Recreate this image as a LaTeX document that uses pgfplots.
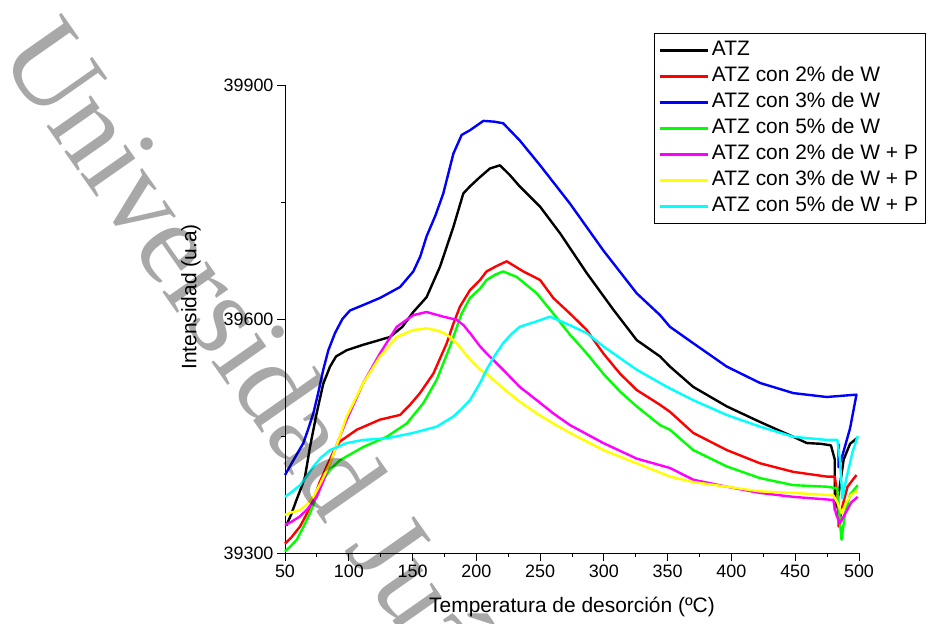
\documentclass[border=0pt]{standalone}
\usepackage{fontspec}
\setmainfont{Liberation Sans}
\newfontfamily\wmfont{Liberation Serif}
\usepackage{pgfplots}
\pgfplotsset{compat=1.18}
\definecolor{cMag}{RGB}{255,0,255}
\definecolor{cCya}{RGB}{0,255,255}
\definecolor{cGre}{RGB}{0,255,0}
\definecolor{cYel}{RGB}{255,255,0}
\definecolor{cRed}{RGB}{255,0,0}
\definecolor{cBlu}{RGB}{0,0,255}
\begin{document}
\begin{tikzpicture}
\useasboundingbox (0bp,0bp) rectangle (933bp,624bp);
\begin{axis}[
  at={(285bp,71bp)}, anchor=south west,
  scale only axis, width=574bp, height=468bp,
  xmin=50, xmax=500, ymin=39300, ymax=39900,
  axis x line=bottom, axis y line=left,
  x axis line style={-}, y axis line style={-},
  xtick={50,100,...,500}, ytick={39300,39600,39900},
  minor x tick num=1, minor y tick num=1,
  tick align=outside,
  major tick length=8bp, minor tick length=4bp,
  axis line style={line width=1bp},
  every tick/.style={line width=1bp, black},
  tick label style={font=\fontsize{18}{20}\selectfont},
  /pgf/number format/assume math mode=true,
  /pgf/number format/set thousands separator={},
  scaled ticks=false,
  xlabel={Temperatura de desorción (ºC)},
  ylabel={Intensidad (u.a)},
  label style={font=\fontsize{21}{24}\selectfont},
  xlabel style={at={(axis description cs:0.5,-0.1154)}, anchor=center},
  ylabel style={at={(axis description cs:-0.1638,0.547)}, anchor=center},
  clip=false,
  legend cell align=left,
  legend style={at={(axis description cs:0.643,1.111)}, anchor=north west,
    draw=black, line width=0.8bp, fill=white,
    font=\fontsize{21}{24}\selectfont,
    inner xsep=4bp, inner ysep=4bp, row sep=0pt,
    nodes={text height=15bp, text depth=4bp, inner ysep=3.5bp, inner xsep=3bp}},
  legend image code/.code={\draw[#1, line width=2.5bp] (0bp,0bp) -- (48bp,0bp);},
  every axis plot/.append style={line width=2.4bp, line join=round},
]
\addplot[color=black] coordinates {
(51,39335)(55,39350)(59,39368)(63,39385)(65.7,39398)(69.6,39436)(74.8,39479)(80,39517)(85.3,39539)(90,39552)(98.4,39560)(111.4,39567)(122,39572)(132.3,39577)(142,39590)(150.6,39609)(161,39628)(171.5,39667)(182,39718)(189.8,39761)(195,39770)(202.9,39782)(210.7,39793)(218.5,39797)(226,39785)(234,39770)(250,39744)(265.6,39710)(286.5,39659)(307.4,39612)(325.7,39573)(344,39552)(351.8,39539)(370,39513)(396.3,39488)(422.4,39468)(448.5,39449)(459,39441)(470,39440)(478,39438)(481,39420)(481,39355)(484,39375)(488,39420)(493,39440)(499,39448)
};
\addlegendentry{ATZ}
\addplot[color=cRed] coordinates {
(50,39312)(55,39320)(61.8,39334)(67,39350)(72.2,39368)(77,39390)(82.7,39411)(88,39430)(93.1,39443)(106.2,39458)(124.5,39471)(140.2,39477)(148,39490)(155.8,39505)(166.3,39530)(176.8,39569)(182,39594)(187.2,39616)(195,39637)(202.9,39650)(208,39661)(216,39668)(223.8,39674)(236.8,39661)(250,39650)(260.3,39627)(273.4,39607)(286.5,39586)(299.5,39556)(312.6,39530)(325.7,39509)(344,39490)(351.8,39481)(370,39454)(396.3,39432)(422.4,39415)(448.5,39404)(474.7,39398)(481,39398)(483.5,39370)(484,39334)(487,39360)(491,39385)(498,39400)
};
\addlegendentry{ATZ con 2\% de W}
\addplot[color=cBlu] coordinates {
(50,39400)(57,39420)(64.4,39441)(68,39458)(72.2,39479)(76,39505)(80,39535)(84,39560)(89.2,39582)(95,39600)(101,39611)(110,39617)(124.5,39627)(140.2,39641)(150.6,39661)(156,39680)(161,39706)(168,39733)(174.1,39761)(182,39812)(188.5,39836)(195,39842)(205.5,39854)(214,39853)(221,39851)(234,39829)(250,39797)(273.4,39748)(299.5,39688)(325.7,39633)(344,39605)(351.8,39590)(370,39569)(396.3,39539)(422.4,39518)(448.5,39505)(474.7,39500)(490,39502)(498,39503)(493,39460)(487,39425)(484,39410)(484,39440)
};
\addlegendentry{ATZ con 3\% de W}
\addplot[color=cGre] coordinates {
(50,39302)(54,39308)(59.2,39317)(64,39332)(69.6,39351)(75,39373)(80,39394)(86,39408)(93.1,39419)(111.4,39436)(129.7,39449)(145.4,39466)(158.4,39492)(168.9,39522)(179.4,39565)(188.5,39607)(195,39627)(202.9,39639)(208,39650)(215,39657)(221,39661)(231.6,39654)(247.3,39633)(260.3,39607)(273.4,39580)(286.5,39556)(299.5,39530)(312.6,39507)(325.7,39488)(344,39464)(351.8,39458)(370,39432)(396.3,39411)(422.4,39396)(448.5,39387)(474.7,39385)(483,39383)(485,39340)(486.3,39317)(489,39350)(493,39375)(499,39387)
};
\addlegendentry{ATZ con 5\% de W}
\addplot[color=cMag] coordinates {
(50,39336)(55,39340)(61.8,39347)(68,39357)(74.8,39372)(80,39392)(85.3,39415)(92,39445)(98.4,39471)(111.4,39518)(124.5,39556)(137.6,39590)(150.6,39605)(161,39609)(174.1,39603)(184.6,39599)(190,39592)(195,39582)(202.9,39565)(208,39556)(221,39535)(234,39513)(247.3,39496)(260.3,39479)(273.4,39464)(299.5,39441)(325.7,39421)(351.8,39409)(370,39394)(396.3,39385)(422.4,39377)(448.5,39372)(479.8,39368)(482,39350)(485,39338)(489,39350)(494,39365)(499,39372)
};
\addlegendentry{ATZ con 2\% de W + P}
\addplot[color=cYel] coordinates {
(50,39349)(55,39352)(61.8,39355)(67,39362)(72.2,39372)(78,39390)(85.3,39415)(92,39445)(98.4,39475)(111.4,39518)(124.5,39552)(137.6,39577)(150.6,39586)(161,39588)(170,39585)(176.8,39580)(184.6,39569)(195,39548)(202.9,39535)(208,39530)(221,39511)(234,39494)(247.3,39479)(260.3,39466)(273.4,39454)(299.5,39432)(325.7,39415)(351.8,39398)(370,39391)(396.3,39385)(422.4,39379)(448.5,39377)(479.8,39374)(483,39365)(486.3,39351)(490,39365)(494,39375)(499,39380)
};
\addlegendentry{ATZ con 3\% de W + P}
\addplot[color=cCya] coordinates {
(50,39372)(55,39378)(61.8,39387)(67,39398)(72.2,39411)(78,39422)(85.3,39432)(98.4,39441)(111.4,39445)(129.7,39447)(150.6,39454)(168.9,39462)(182,39475)(188,39484)(195,39496)(202.9,39518)(208,39535)(214,39552)(221,39569)(227,39580)(234,39590)(247.3,39597)(257.7,39603)(265,39598)(273.4,39592)(286.5,39582)(299.5,39565)(325.7,39535)(344,39518)(351.8,39511)(370,39496)(396.3,39477)(422.4,39462)(448.5,39449)(474.7,39445)(483,39445)(485,39420)(487,39370)(490,39395)(495,39430)(499,39450)
};
\addlegendentry{ATZ con 5\% de W + P}
\end{axis}
\begin{scope}
\clip (0bp,0bp) rectangle (933bp,624bp);
\node[anchor=base west, rotate=-55, text=black, text opacity=0.34, font=\wmfont\fontsize{118}{122}\selectfont, inner sep=0pt] at (-3bp,569bp) {Universidad Juárez Autónoma de Tabasco};
\end{scope}
\end{tikzpicture}
\end{document}
